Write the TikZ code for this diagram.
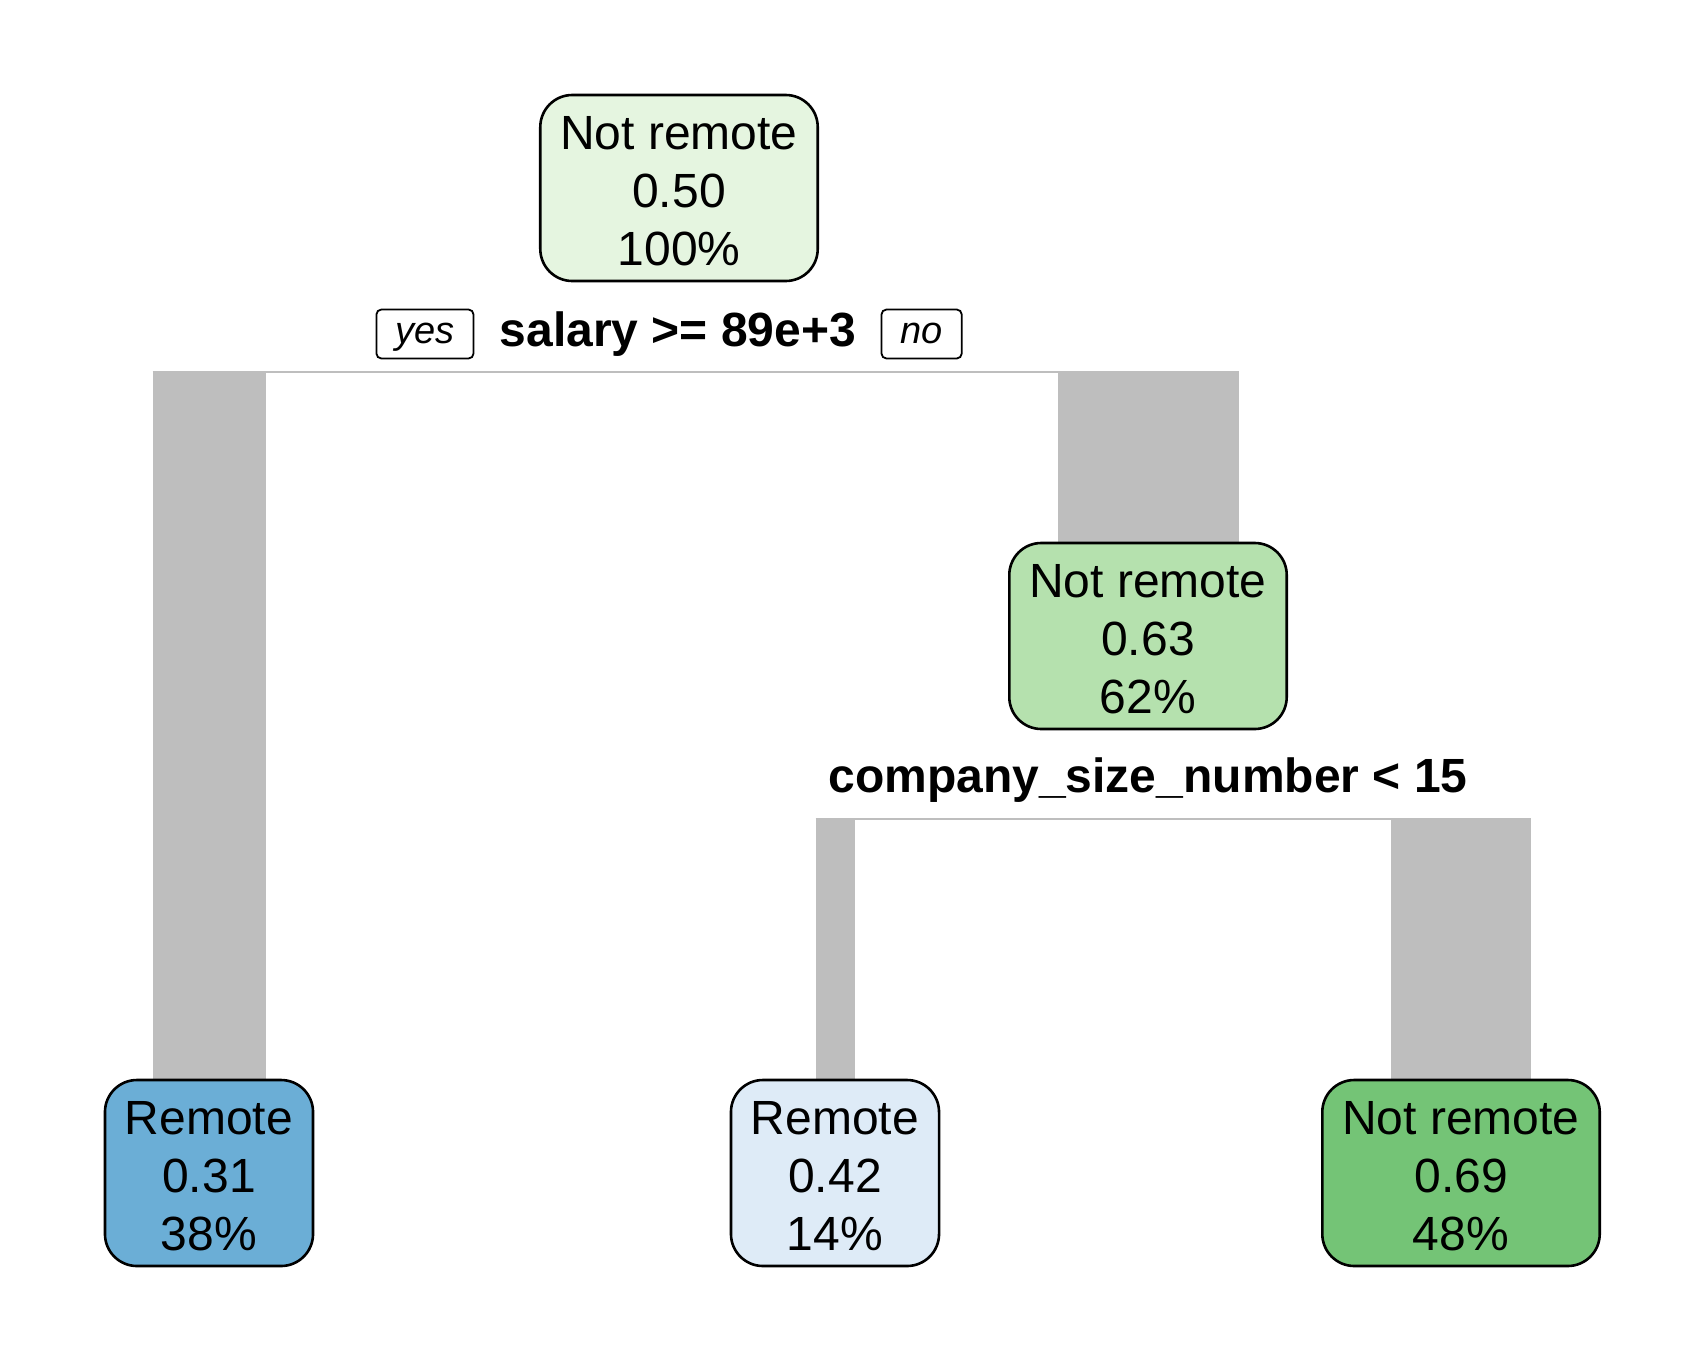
\documentclass[tikz,border=0pt]{standalone}
\usepackage{fontspec}
\setmainfont{Liberation Sans}
\usetikzlibrary{positioning,calc,backgrounds}
\definecolor{greenA}{HTML}{E5F5E0}
\definecolor{greenB}{HTML}{B5E1AE}
\definecolor{greenC}{HTML}{74C476}
\definecolor{blueA}{HTML}{6BAED6}
\definecolor{blueB}{HTML}{DEEBF7}
\definecolor{branchgray}{HTML}{BEBEBE}
\newcommand{\nodelines}[3]{\rule{0pt}{20pt}#1\\#2\\#3}

\begin{document}
\begin{tikzpicture}[x=0.5pt,y=-0.5pt,
  treenode/.style={draw,line width=1.3pt,rounded corners=16pt,align=center,
    font=\fontsize{24}{29}\selectfont,inner xsep=10pt,minimum height=93pt},
  splitlabel/.style={inner sep=0pt,font=\fontsize{24}{29}\selectfont\bfseries},
  yesno/.style={draw,line width=0.9pt,rounded corners=2.5pt,inner xsep=9.5pt,
    inner ysep=0pt,minimum height=24.5pt,text height=12pt,text depth=3pt,
    font=\fontsize{19}{22}\selectfont\itshape},
  branch/.style={fill=branchgray},
  splitline/.style={draw=branchgray,line width=1pt}]
\useasboundingbox (0,0) rectangle (1700,1360);
% nodes
\node[treenode,fill=greenA] (root) at (679,188) {\nodelines{Not remote}{0.50}{100\%}};
\node[treenode,fill=greenB] (nr1)  at (1148,636) {\nodelines{Not remote}{0.63}{62\%}};
\node[treenode,fill=blueA]  (remA) at (209,1173) {\nodelines{Remote}{0.31}{38\%}};
\node[treenode,fill=blueB]  (remB) at (835,1173) {\nodelines{Remote}{0.42}{14\%}};
\node[treenode,fill=greenC] (nr2)  at (1461,1173) {\nodelines{Not remote}{0.69}{48\%}};
% split labels
\node[splitlabel] (split1) at (678,334) {salary >= 89e+3};
\node[yesno,left=12.5pt of split1] (yes) {yes};
\node[yesno,right=12pt of split1] (no) {no};
\node[splitlabel] (split2) at (1148,780) {company\_size\_number < 15};
\coordinate (s1) at (679,372);
\coordinate (s2) at (1148,819);
% branches
\begin{pgfonlayer}{background}
\fill[branch] ($(remA.north |- s1)+(-56.5,0)$) rectangle ($(remA.north)+(56.5,0)$);
\fill[branch] ($(nr1.north |- s1)+(-90.5,0)$) rectangle ($(nr1.north)+(90.5,0)$);
\fill[branch] ($(remB.north |- s2)+(-19.5,0)$) rectangle ($(remB.north)+(19.5,0)$);
\fill[branch] ($(nr2.north |- s2)+(-70,0)$) rectangle ($(nr2.north)+(70,0)$);
\draw[splitline] ($(remA.north |- s1)+(-56.5,0)$) -- ($(nr1.north |- s1)+(90.5,0)$);
\draw[splitline] ($(remB.north |- s2)+(-19.5,0)$) -- ($(nr2.north |- s2)+(70,0)$);
\end{pgfonlayer}
\end{tikzpicture}
\end{document}
